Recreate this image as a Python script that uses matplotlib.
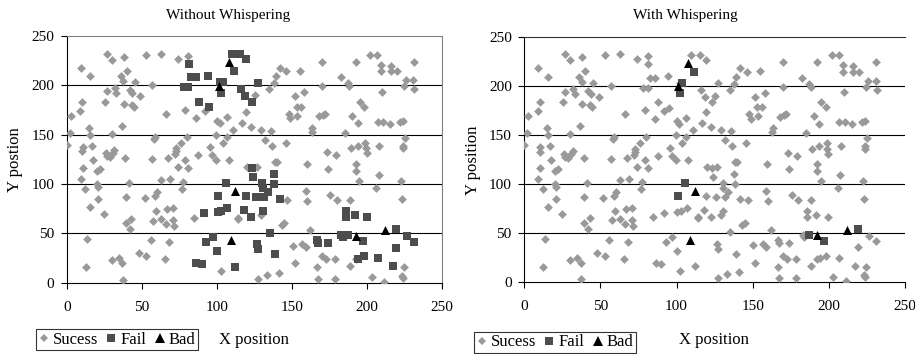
import matplotlib.pyplot as plt
from matplotlib.lines import Line2D

plt.rcParams['font.family'] = ['Liberation Serif', 'DejaVu Serif']

# points that succeed in both runs
ok_x = [0, 2, 2.7, 9.3, 10, 8.9, 10.6, 10.4, 10.6, 9.3, 12.2, 13.8, 12.6, 15.5, 15, 15.5, 16.6, 17.3,
        15.5, 20.4, 22, 20.4, 20.6, 20.6, 24.6, 27, 30, 26.6, 25.7, 25.9, 26.6, 29, 31, 31.7, 30, 32,
        33, 30, 34.6, 37, 37.5, 38, 40, 36, 37.7, 42, 43.7, 38, 43.3, 44.6, 36.6, 39, 41.2, 39.5, 39.5,
        43, 42, 45.3, 48.8, 48, 52.8, 52, 53, 57, 55.9, 57, 58.7, 58, 57.7, 58.7, 60, 59.4, 62.8, 62.8,
        62.6, 66, 65.4, 66, 68.8, 68, 67.7, 66.5, 70.5, 71, 71.4, 72, 72.8, 73, 74, 74, 76.3, 76.5,
        77.2, 80, 79, 79, 81, 81, 84.7, 86, 87.6, 92, 95.4, 96.7, 99.6, 99.6, 100.3, 101.8, 103.8,
        106.5, 106.5, 107.8, 111, 102.5, 113.8, 114, 116.7, 119.4, 122.5, 125.4, 120, 126.4, 129, 127,
        133, 135.7, 132, 136.4, 134.8, 138, 139, 142, 146, 145.7, 138.7, 140, 129.5, 143, 144.8, 146.8,
        141, 150.4, 151.7, 147.7, 148.6, 151.7, 153, 153.5, 155, 156, 158, 159.7, 159, 160, 156.8, 159,
        162, 163.5, 163, 166.8, 167.5, 170, 170.2, 168, 170.8, 172, 173, 174, 175.5, 170, 172.5, 178.6,
        179, 180, 182.3, 185, 187, 188, 188.9, 188.5, 188.5, 190.2, 192.5, 193.6, 193.6, 192.5, 192.5,
        194.8, 195, 198, 198.5, 199, 199.7, 192.5, 202, 206.5, 209, 209, 210, 207, 210.6, 208, 207.6,
        206, 203, 211, 215, 216, 216, 219.6, 221.8, 223.6, 223.6, 223.6, 225, 224.7, 225.8, 222.5, 223,
        224.7, 223, 224, 231, 230.8, 231.4, 178.6]
ok_y = [140, 152, 169, 218, 183, 174, 138, 133, 116, 105, 95, 44, 15.5, 209, 157, 150, 139, 124,
        77, 113.5, 115.5, 100, 97, 85, 70, 232, 226, 194, 183, 131, 128, 127, 131, 134, 151, 197,
        192, 23, 25, 20, 3, 229, 215, 209, 204, 195, 192, 181, 180, 178, 159, 126, 101, 87, 60,
        65, 54, 203, 189, 30, 27, 86, 231, 200, 43, 125, 148, 146, 63, 88, 92, 73, 232, 104,
        64.5, 59.5, 24, 171, 105, 41, 126, 75, 76, 63.5, 57.5, 130, 133, 136, 117.5, 227, 142, 95,
        102, 148, 175, 124, 116.5, 230, 66, 166.5, 129, 174, 137, 129, 124, 150, 164, 161.5, 142,
        148, 167.5, 124, 155, 12, 66, 65, 162, 173, 158, 190, 117.5, 117.5, 155, 4,
        8, 154, 145, 139, 196, 202, 209, 218, 214, 142, 122, 122, 69, 58.5, 60, 83.5,
        10, 37.5, 19.6, 171, 166.5, 189, 178, 169, 215, 178, 193, 120, 93, 83, 39, 36,
        53, 157, 153, 15.5, 4, 224, 199, 168.5, 170, 171, 132, 115, 89, 27, 23.6, 4,
        129, 84, 208, 152, 202, 199, 136, 84, 17, 169, 224, 161.5, 139, 120, 113.5,
        103, 183.5, 178, 142, 136, 131, 23.6, 231, 231, 221, 214.5, 193.6, 163, 163, 138.5, 109,
        96, 5.4, 1, 161, 220, 214.5, 214, 163, 164, 139, 136, 147, 199, 205, 103, 84.5,
        15.5, 7, 5, 224, 205, 196, 23.6]

# points that fail only without whispering
fail_only_x = [109.8, 115.4, 119.3, 94.3, 115.8, 118.7, 123.1, 127.1, 81.2, 82.5, 86, 78, 81, 88, 95,
               102, 100.6, 102.6, 107, 91.6, 119.3, 118.2, 122.4, 123.6, 124.2, 126, 130.2, 130.4,
               134, 131.5, 130.8, 138, 138.2, 142, 135.3, 138.8, 126.4, 127, 97.2, 92.8, 100, 86.3,
               90, 112, 185.9, 185.9, 191.7, 199.7, 182.8, 184, 166.4, 167, 173.6, 194, 198, 207,
               219, 217.3, 226.7, 231]
fail_only_y = [231.8, 231.8, 226.7, 209.5, 196, 189, 183.4, 202.7, 222, 208, 208, 198, 198, 183.5, 177.7,
               203, 71.6, 72.6, 76, 70.3, 87.8, 73.6, 66.9, 116.6, 107.4, 86.5, 100.7, 95.6,
               92.2, 86.5, 73, 110, 99.7, 84.5, 50.7, 28.7, 38.9, 34, 46.6, 41.2, 32, 19.6,
               18.6, 16.2, 73, 66.9, 68.6, 66.9, 48.3, 46, 43.2, 40.5, 39.9, 24.3, 27, 24.7,
               35.5, 16.9, 47.6, 41.6]

# points that fail in both runs
fail_both_x = [111.6, 103.8, 102.5, 105.8, 101, 187, 197, 219.2]
fail_both_y = [214, 203, 192.6, 100.7, 87.8, 48.3, 42.2, 54]

# bad points (same in both)
bad_x = [107.8, 101.2, 112.2, 109.1, 192.3, 211.8]
bad_y = [223.5, 199.5, 93.2, 43.5, 47.7, 53.6]

grey = '#999999'
dark = '#4d4d4d'

fig = plt.figure(figsize=(9.15, 3.54), dpi=100)
ax1 = fig.add_axes([0.0729, 0.2014, 0.4105, 0.697])
ax2 = fig.add_axes([0.573, 0.2025, 0.416, 0.694])


def draw(ax, sx, sy, fx, fy, right):
    ax.scatter(sx, sy, marker='D', s=20, color=grey, linewidths=0, zorder=3)
    ax.scatter(fx, fy, marker='s', s=34, color=dark, linewidths=0, zorder=4)
    ax.scatter(bad_x, bad_y, marker='^', s=42, color='black', linewidths=0, zorder=5)
    ax.set_xlim(0, 250)
    ax.set_ylim(0, 250)
    ax.set_xticks(range(0, 251, 50))
    ax.set_yticks(range(0, 251, 50))
    for v in (50, 100, 150, 200):
        ax.axhline(v, color='black', lw=0.8, zorder=1)
    ax.spines['left'].set_color('black')
    ax.spines['bottom'].set_color('black')
    if right:
        ax.spines['right'].set_visible(False)
        ax.spines['top'].set_color('#333333')
    else:
        ax.spines['right'].set_color('#808080')
        ax.spines['top'].set_color('#808080')
    ax.tick_params(axis='both', direction='out', length=4, width=0.8, labelsize=11)
    ax.tick_params(axis='x', pad=9)
    ax.tick_params(axis='y', pad=5)


draw(ax1, ok_x, ok_y, fail_only_x + fail_both_x, fail_only_y + fail_both_y, False)
draw(ax2, ok_x + fail_only_x, ok_y + fail_only_y, fail_both_x, fail_both_y, True)

fig.text(228 / 915, 1 - 15 / 354, 'Without Whispering', ha='center', va='center', fontsize=11)
fig.text(685 / 915, 1 - 15 / 354, 'With Whispering', ha='center', va='center', fontsize=11)
fig.text(15 / 915, 1 - 160 / 354, 'Y postion', rotation=90, ha='center', va='center', fontsize=12)
fig.text(473 / 915, 1 - 160 / 354, 'Y position', rotation=90, ha='center', va='center', fontsize=12)
fig.text(254 / 915, 1 - 340 / 354, 'X position', ha='center', va='center', fontsize=12)
fig.text(714 / 915, 1 - 340 / 354, 'X position', ha='center', va='center', fontsize=12)

handles = [Line2D([], [], ls='', marker='D', ms=4.5, color=grey, mew=0),
           Line2D([], [], ls='', marker='s', ms=5.5, color=dark, mew=0),
           Line2D([], [], ls='', marker='^', ms=6.5, color='black', mew=0)]
labels = ['Sucess', 'Fail', 'Bad']
for x0, y0 in ((36, 329), (474, 332)):
    leg = fig.legend(handles, labels, loc='upper left', bbox_to_anchor=(x0 / 915, 1 - y0 / 354),
                     ncol=3, fontsize=12, frameon=True, fancybox=False, borderpad=0.15,
                     handlelength=0.6, handletextpad=0.25, columnspacing=0.5, borderaxespad=0)
    leg.get_frame().set_edgecolor('black')
    leg.get_frame().set_linewidth(0.8)

fig.savefig('out.png', dpi=100)
